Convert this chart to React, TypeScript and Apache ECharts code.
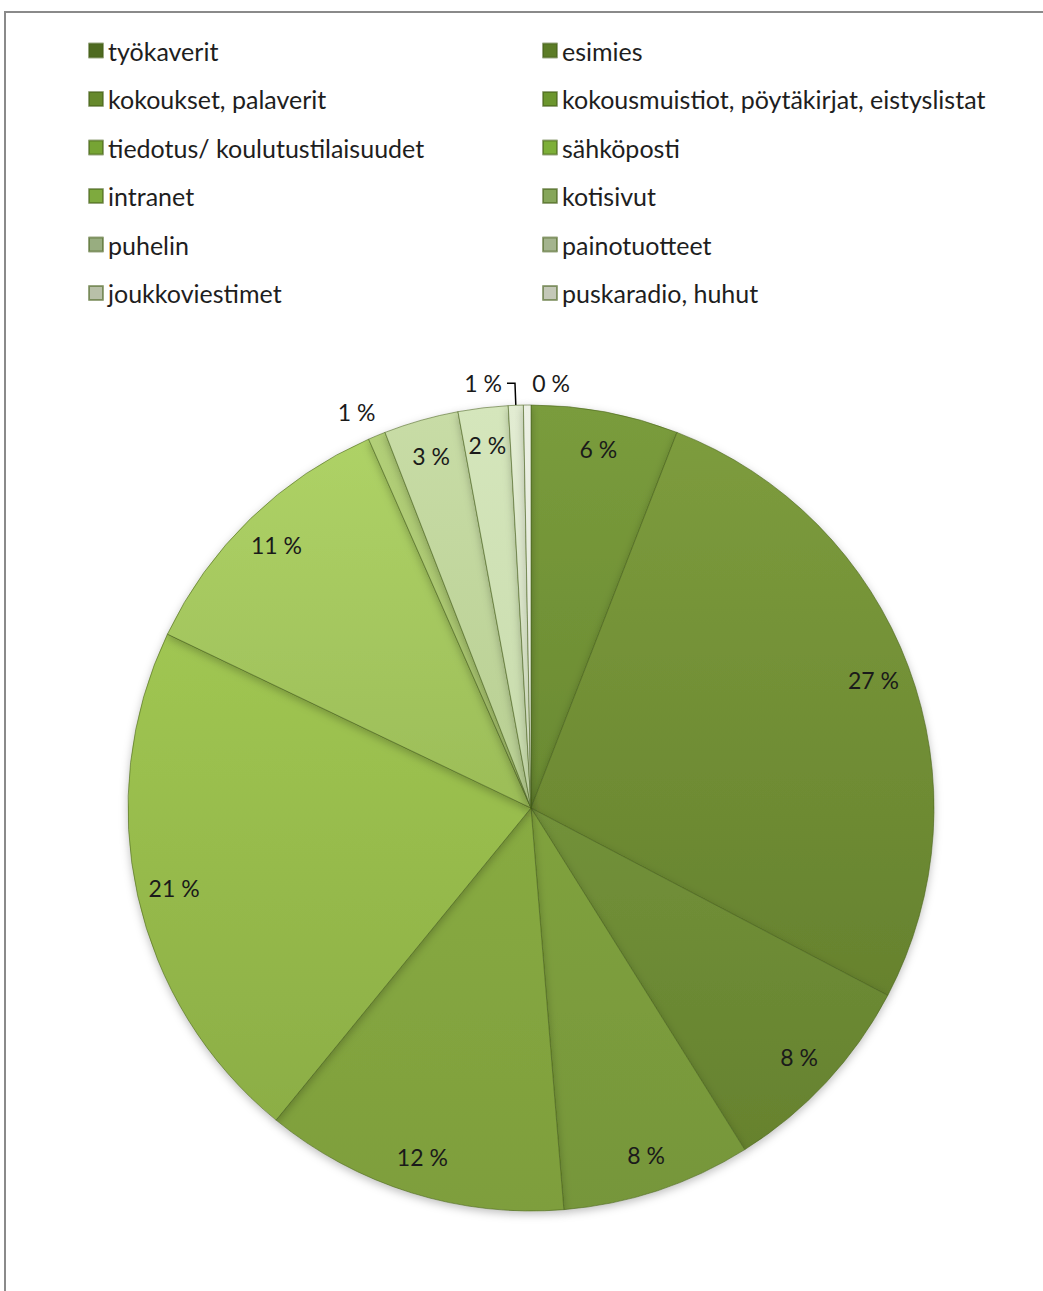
import React, { useEffect, useRef } from "react";
import * as echarts from "echarts";

const categories = [
  "työkaverit",
  "esimies",
  "kokoukset, palaverit",
  "kokousmuistiot, pöytäkirjat, eistyslistat",
  "tiedotus/ koulutustilaisuudet",
  "sähköposti",
  "intranet",
  "kotisivut",
  "puhelin",
  "painotuotteet",
  "joukkoviestimet",
  "puskaradio, huhut",
];
const shares = [5.9, 26.8, 8.4, 7.6, 12.2, 21.2, 11.3, 0.7, 3.0, 2.0, 0.6, 0.3];
const outsideLabelIdx = [7, 10, 11];
const leaderLineIdx = [10];

const sliceTop = [
  "#7a9c3c", "#7d9c3d", "#72913a", "#80a23e", "#88ab42", "#a0c652",
  "#aed266", "#b2cf78", "#c8dca6", "#d5e6bc", "#e2ecd2", "#ecf0e4",
];
const sliceBottom = [
  "#6a8a32", "#66822e", "#66822e", "#76963a", "#7e9e3c", "#8cae45",
  "#9cbd58", "#a4c06a", "#b8cf92", "#c8dbac", "#d6e2c4", "#e0e6d6",
];
const legendColors = [
  "#4e6a20", "#5c7c26", "#66892c", "#6c962e", "#76a434", "#7daf38",
  "#7eaa3e", "#86a65a", "#98ad80", "#a4b48e", "#b8c0a8", "#c4c8b8",
];

const FONT = "Lato, 'Open Sans', sans-serif";

export default function App() {
  const ref = useRef<HTMLDivElement>(null);
  useEffect(() => {
    if (!ref.current) return;
    const chart = echarts.init(ref.current, undefined, { renderer: "svg" });
    const center = [531, 808];
    const R = 403;
    const fmt = (p: any) => `${Math.round(p.value)} %`;

    const mainData = categories.map((name, i) => {
      const outside = outsideLabelIdx.includes(i);
      return {
        name,
        value: shares[i],
        itemStyle: {
          color: new echarts.graphic.LinearGradient(0, 0, 0, 1, [
            { offset: 0, color: sliceTop[i] },
            { offset: 1, color: sliceBottom[i] },
          ]),
        },
        label: { show: outside },
        labelLine: {
          show: leaderLineIdx.includes(i),
          length: 22,
          length2: i === 7 ? 2 : 8,
        },
      };
    });
    const overlayData = categories.map((name, i) => ({
      name,
      value: shares[i],
      label: { show: !outsideLabelIdx.includes(i) },
    }));

    const legendItems = (parity: number) =>
      categories
        .map((name, i) => ({ name, i }))
        .filter((d) => d.i % 2 === parity)
        .map((d) => ({ name: d.name, itemStyle: { color: legendColors[d.i] } }));

    const legendBase = {
      orient: "vertical",
      top: 33,
      itemWidth: 14,
      itemHeight: 14,
      itemGap: 23.5,
      icon: "rect",
      selectedMode: false,
      textStyle: { fontFamily: FONT, fontSize: 25, color: "#1e1e1e", lineHeight: 24 },
    };

    chart.setOption({
      animation: false,
      backgroundColor: "transparent",
      legend: [
        { ...legendBase, left: 83, data: legendItems(0) },
        { ...legendBase, left: 537, data: legendItems(1) },
      ],
      series: [
        {
          type: "pie",
          center,
          radius: R,
          startAngle: 90,
          clockwise: true,
          avoidLabelOverlap: false,
          silent: true,
          itemStyle: {
            borderColor: "rgba(70,95,25,0.55)",
            borderWidth: 1,
            shadowBlur: 8,
            shadowOffsetY: 3,
            shadowColor: "rgba(0,0,0,0.25)",
          },
          label: {
            show: false,
            position: "outside",
            formatter: fmt,
            fontFamily: FONT,
            fontSize: 23,
            color: "#1a1a1a",
          },
          labelLine: {
            smooth: false,
            lineStyle: { color: "#000", width: 1.5 },
          },
          labelLayout: (params: any) =>
            params.dataIndex === 11
              ? { dx: 56 }
              : params.dataIndex === 7
              ? { dx: 14, dy: -3 }
              : {},
          data: mainData,
        },
        {
          type: "pie",
          center,
          radius: [R * 0.8, R],
          startAngle: 90,
          clockwise: true,
          silent: true,
          itemStyle: { color: "rgba(0,0,0,0)", borderWidth: 0 },
          label: {
            position: "inside",
            formatter: fmt,
            fontFamily: FONT,
            fontSize: 23,
            color: "#1a1a1a",
          },
          labelLine: { show: false },
          data: overlayData,
        },
      ],
    });
    return () => chart.dispose();
  }, []);

  return (
    <>
      <div
        style={{
          position: "absolute",
          left: 4,
          top: 11,
          width: 1039,
          height: 1280,
          boxSizing: "border-box",
          borderLeft: "2px solid #8a8a8a",
          borderTop: "2px solid #8a8a8a",
        }}
      />
      <div
        ref={ref}
        style={{ position: "absolute", left: 0, top: 0, width: 1043, height: 1291 }}
      />
    </>
  );
}
